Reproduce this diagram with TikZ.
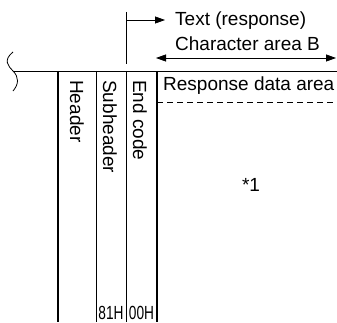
\documentclass[tikz,border=0pt]{standalone}
\usepackage{fontspec}
\setmainfont{Liberation Sans}
\usetikzlibrary{arrows.meta}
\begin{document}
\begin{tikzpicture}[x=1pt,y=1pt,
  lbl/.style={inner sep=0pt,font=\fontsize{19}{21}\selectfont},
  vlbl/.style={lbl,rotate=-90,anchor=west},
  thin/.style={line width=0.8pt},
  thick/.style={line width=1.6pt},
  tip/.style={-{Triangle[length=10pt,width=7pt]}}]
\useasboundingbox (0,0) rectangle (337,322);
% coordinates
\coordinate (brkTop) at (13,270);
\coordinate (brkMid) at (13,251);
\coordinate (brkBot) at (13,231);
\coordinate (lineR) at (337,251);
\coordinate (boxTL) at (58,251);
\coordinate (boxBL) at (58,0);
\coordinate (c1T) at (96,251);
\coordinate (c1B) at (96,0);
\coordinate (c2T) at (126,251);
\coordinate (c2B) at (126,0);
\coordinate (c3T) at (157,251);
\coordinate (c3B) at (157,0);
\coordinate (dashL) at (157,220);
\coordinate (dashR) at (337,220);
\coordinate (vTop) at (126,310);
\coordinate (vBot) at (126,258);
\coordinate (arrS) at (126,302);
\coordinate (arrE) at (165,302);
\coordinate (dblL) at (156,264);
\coordinate (dblR) at (336,264);
% break mark
\draw[thin] (brkTop) .. controls (3,262) and (8,256) .. (brkMid)
  .. controls (19,245) and (19,238) .. (brkBot);
% main lines
\draw[thin] (brkMid) -- (lineR);
\draw[thick] (boxTL) -- (boxBL);
\draw[thin] (c1T) -- (c1B);
\draw[thin] (c2T) -- (c2B);
\draw[thick] (c3T) -- (c3B);
\draw[thin,dash pattern=on 6pt off 4pt] (dashL) -- (dashR);
\draw[thin] (vTop) -- (vBot);
\draw[thin,tip] (arrS) -- (arrE);
\draw[thin,{Triangle[length=10pt,width=7pt]}-{Triangle[length=10pt,width=7pt]}] (dblL) -- (dblR);
% texts
\node[lbl,anchor=west] (t1) at (175,301) {Text (response)};
\node[lbl,anchor=west] (t2) at (175,278) {Character area B};
\node[lbl,anchor=west] (t3) at (163,236) {Response data area};
\node[vlbl] (h) at (77,242) {Header};
\node[vlbl] (sh) at (110,242) {Subheader};
\node[vlbl] (ec) at (140,242) {End code};
\node[lbl] (star) at (251,137) {*1};
\node[lbl,anchor=south] (v81) at (111,2) {\scalebox{0.72}[1]{81H}};
\node[lbl,anchor=south] (v00) at (141.5,2) {\scalebox{0.72}[1]{00H}};
\end{tikzpicture}
\end{document}
